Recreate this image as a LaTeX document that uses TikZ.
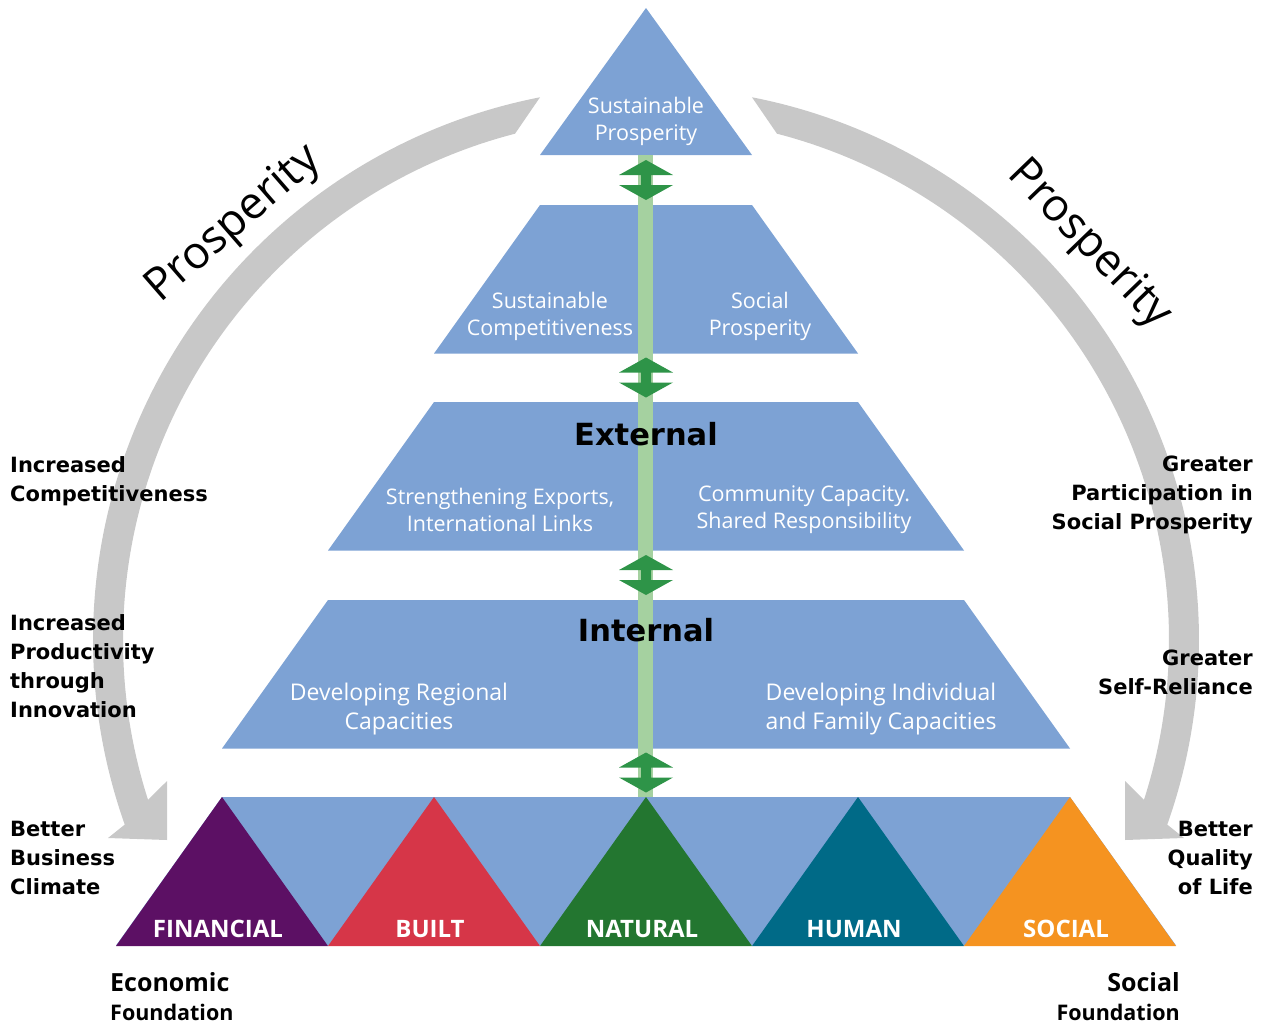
\documentclass[tikz,border=0pt]{standalone}
\usepackage{fontspec}
\setmainfont{Open Sans}
\newfontfamily\heavyfont{DejaVu Sans}
\usetikzlibrary{calc}

\definecolor{pyrblue}{HTML}{7DA2D4}
\definecolor{arcgray}{HTML}{C8C8C8}
\definecolor{barlight}{HTML}{A5D1A0}
\definecolor{arrowgreen}{HTML}{2E9448}
\definecolor{fincap}{HTML}{5C1064}
\definecolor{builtcap}{HTML}{D63648}
\definecolor{natcap}{HTML}{237630}
\definecolor{humcap}{HTML}{006A87}
\definecolor{soccap}{HTML}{F59320}

\begin{document}
\begin{tikzpicture}[x=1pt,y=-1pt,
  lvltext/.style={text=white,align=center,inner sep=0pt,font=\fontsize{21.5}{27}\selectfont},
  sidelabel/.style={inner sep=0pt,font=\heavyfont\bfseries\fontsize{21}{29}\selectfont},
  heading/.style={inner sep=0pt,anchor=base,font=\heavyfont\bfseries\fontsize{30.5}{34}\selectfont},
  capital/.style={text=white,inner sep=0pt,anchor=base,font=\bfseries\fontsize{24}{28}\selectfont},
  arclabel/.style={inner sep=0pt,font=\fontsize{45}{50}\selectfont},
  foot/.style={inner sep=0pt,font=\bfseries\fontsize{25}{30}\selectfont},
  footsub/.style={inner sep=0pt,font=\bfseries\fontsize{21.5}{26}\selectfont}]
\useasboundingbox (0,0) rectangle (1269,1026);
\coordinate (hub) at (646,640);

% grey prosperity arcs
\fill[arcgray] ($(hub)+(258.95:553)$) arc[start angle=258.95,end angle=160.5,radius=553]
  -- (108,838) -- (167,840) -- (167,781)
  -- ($(hub)+(162.2:523)$) arc[start angle=162.2,end angle=255.5,radius=523] -- cycle;
\fill[arcgray] ($(hub)+(281.05:553)$) arc[start angle=281.05,end angle=379.5,radius=553]
  -- (1184,838) -- (1125,840) -- (1125,781)
  -- ($(hub)+(377.8:523)$) arc[start angle=377.8,end angle=284.5,radius=523] -- cycle;

% pyramid levels
\fill[pyrblue] (646,8) -- (752,155) -- (540,155) -- cycle;
\foreach \t/\w in {205/106,402/212,600/318,797/424}
  \fill[pyrblue] (646-\w,\t) -- (646+\w,\t) -- (752+\w,\t+148.5) -- (540-\w,\t+148.5) -- cycle;

% capitals
\foreach \cx/\col/\lbl in {222/fincap/FINANCIAL,434/builtcap/BUILT,646/natcap/NATURAL,858/humcap/HUMAN,1070/soccap/SOCIAL}{
  \fill[\col] (\cx,797) -- (\cx+106,946) -- (\cx-106,946) -- cycle;
  \node[capital] (\lbl) at (\cx-4,937) {\lbl};
}

% central bar with double arrows
\fill[barlight] (638,155) rectangle (653,797);
\foreach \c in {180,377.5,575,772.5}
  \fill[arrowgreen] (646,\c-20) -- (673,\c-5) -- (651,\c-5) -- (651,\c+5) -- (673,\c+5)
    -- (646,\c+20) -- (619,\c+5) -- (641,\c+5) -- (641,\c-5) -- (619,\c-5) -- cycle;

\node[lvltext] (apex) at (646,121) {Sustainable\\Prosperity};
\node[lvltext] (compet) at (550,316) {Sustainable\\Competitiveness};
\node[lvltext] (socpros) at (760,316) {Social\\Prosperity};
\node[heading] (external) at (646,445) {External};
\node[lvltext] (exports) at (500,510) {Strengthening Exports,\\International Links};
\node[lvltext] (community) at (804,510) {Community Capacity.\\Shared Responsibility};
\node[heading] (internal) at (646,641) {Internal};
\node[lvltext,font=\fontsize{23}{28.5}\selectfont] (regional) at (399,709) {Developing Regional\\Capacities};
\node[lvltext,font=\fontsize{23}{28.5}\selectfont] (individual) at (881,709) {Developing Individual\\and Family Capacities};

% outcomes along the arcs
\node[arclabel,rotate=41] (prosleft) at (234,225) {Prosperity};
\node[arclabel,rotate=-46] (prosright) at (1089,245) {Prosperity};
\node[sidelabel,anchor=north west,align=left] (competitive) at (10,456) {Increased\\Competitiveness};
\node[sidelabel,anchor=north west,align=left] (innovation) at (10,614) {Increased\\Productivity\\through\\Innovation};
\node[sidelabel,anchor=north west,align=left] (business) at (10,821) {Better\\Business\\Climate};
\node[sidelabel,anchor=north east,align=right] (participation) at (1253,456) {Greater\\Participation in\\Social Prosperity};
\node[sidelabel,anchor=north east,align=right] (reliance) at (1253,650) {Greater\\Self-Reliance};
\node[sidelabel,anchor=north east,align=right] (quality) at (1253,821) {Better\\Quality\\of Life};

\node[foot,anchor=base west] (economic) at (110,991) {Economic};
\node[footsub,anchor=base west] (econfound) at (110,1020) {Foundation};
\node[foot,anchor=base east] (social) at (1180,991) {Social};
\node[footsub,anchor=base east] (socfound) at (1180,1020) {Foundation};
\end{tikzpicture}
\end{document}
